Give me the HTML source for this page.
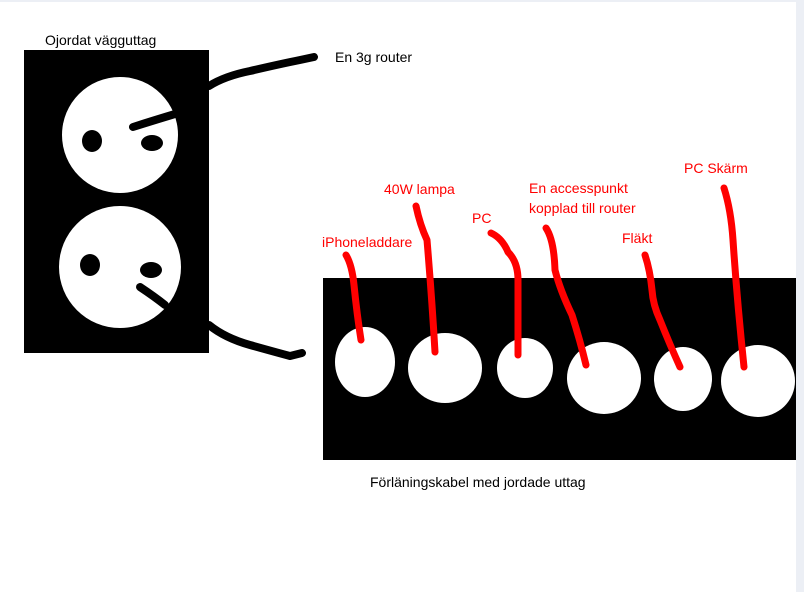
<!DOCTYPE html>
<html><head><style>
html,body{margin:0;padding:0;background:#fff;width:804px;height:592px;overflow:hidden}
</style></head><body>
<svg width="804" height="592" viewBox="0 0 804 592" xmlns="http://www.w3.org/2000/svg" style="display:block">
<rect x="0" y="0" width="804" height="2" fill="#eceff5"/>
<rect x="796" y="0" width="8" height="592" fill="#eceff5"/>
<text x="45" y="45" font-family="Liberation Sans, sans-serif" font-size="14" fill="#000">Ojordat vägguttag</text>
<rect x="24" y="50" width="185" height="303" fill="#000"/>
<circle cx="120" cy="135" r="58" fill="#fff"/>
<ellipse cx="92" cy="141" rx="10" ry="11" fill="#000"/>
<ellipse cx="152" cy="143" rx="11" ry="8" fill="#000"/>
<circle cx="120" cy="267" r="61" fill="#fff"/>
<ellipse cx="90" cy="265" rx="10" ry="11" fill="#000"/>
<ellipse cx="151" cy="270" rx="11" ry="8" fill="#000"/>
<g fill="none" stroke="#000" stroke-width="8" stroke-linecap="round" stroke-linejoin="round">
<path d="M133 127 Q155 120 175 114"/>
<path d="M209 86 Q225 76 250 71 Q280 64 300 60 L314 57"/>
<path d="M140 287 Q155 297 165 305"/>
<path d="M209 325 Q225 338 250 345 Q275 352 290 356 L302 353"/>
</g>
<text x="335" y="62" font-family="Liberation Sans, sans-serif" font-size="14" fill="#000">En 3g router</text>
<rect x="323" y="278" width="473" height="182" fill="#000"/>
<g fill="#fff">
<ellipse cx="365" cy="362" rx="30" ry="35"/>
<ellipse cx="445" cy="368" rx="37" ry="35"/>
<ellipse cx="525" cy="368" rx="28" ry="30"/>
<ellipse cx="604" cy="378" rx="37" ry="36"/>
<ellipse cx="683" cy="379" rx="29" ry="32"/>
<ellipse cx="758" cy="381" rx="37" ry="36"/>
</g>
<g fill="none" stroke="#f00" stroke-width="7" stroke-linecap="round" stroke-linejoin="round">
<path d="M346 255 Q352 265 354 285 Q357 315 361 340"/>
<path d="M416 206 Q420 225 427 240 Q432 300 435 352"/>
<path d="M491 233 Q502 238 508 252 Q518 262 518 280 L518 355"/>
<path d="M546 228 Q554 240 555 270 Q560 290 572 315 Q580 340 586 365"/>
<path d="M645 255 Q650 270 652 290 Q653 305 660 320 Q670 345 680 367"/>
<path d="M724 188 Q731 210 733 240 Q737 300 744 367"/>
</g>
<g font-family="Liberation Sans, sans-serif" font-size="14" fill="#f00">
<text x="322" y="247">iPhoneladdare</text>
<text x="384" y="194">40W lampa</text>
<text x="472" y="223">PC</text>
<text x="529" y="193">En accesspunkt</text>
<text x="529" y="213">kopplad till router</text>
<text x="622" y="243">Fläkt</text>
<text x="684" y="173">PC Skärm</text>
</g>
<text x="370" y="487" font-family="Liberation Sans, sans-serif" font-size="14" fill="#000">Förläningskabel med jordade uttag</text>
</svg>
</body></html>
